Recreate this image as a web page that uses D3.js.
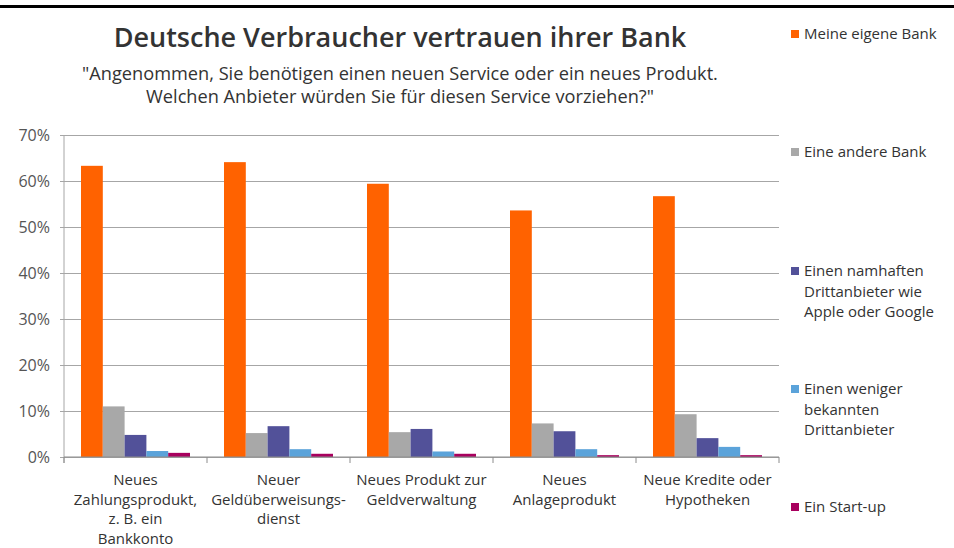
<!DOCTYPE html>
<html>
<head>
<meta charset="utf-8">
<script src="https://cdn.jsdelivr.net/npm/d3@7/dist/d3.min.js"></script>
<style>
  body { margin: 0; background: #ffffff; }
  svg { display: block; font-family: "Open Sans", sans-serif; }
</style>
</head>
<body>
<div id="chart"></div>
<script>
// categories (multi-line labels) and series
const categories = [
  ["Neues", "Zahlungsprodukt,", "z. B. ein", "Bankkonto"],
  ["Neuer", "Geldüberweisungs-", "dienst"],
  ["Neues Produkt zur", "Geldverwaltung"],
  ["Neues", "Anlageprodukt"],
  ["Neue Kredite oder", "Hypotheken"]
];
const seriesNames = [
  ["Meine eigene Bank"],
  ["Eine andere Bank"],
  ["Einen namhaften", "Drittanbieter wie", "Apple oder Google"],
  ["Einen weniger", "bekannten", "Drittanbieter"],
  ["Ein Start-up"]
];
// values in %, one array per series, ordered as categories
const eigeneBank   = [63.3, 64.1, 59.4, 53.6, 56.7];
const andereBank   = [11.0, 5.2, 5.4, 7.3, 9.3];
const namhafte     = [4.8, 6.7, 6.1, 5.6, 4.1];
const wenigerBek   = [1.3, 1.7, 1.2, 1.7, 2.2];
const startUp      = [0.9, 0.7, 0.7, 0.4, 0.4];
const yTicks = [0, 10, 20, 30, 40, 50, 60, 70];

const colours = ["#ff6200", "#a8a8a8", "#525199", "#5ba3da", "#a8005e"];
const allSeries = [eigeneBank, andereBank, namhafte, wenigerBek, startUp];

const W = 954, H = 548;
const margin = {top: 135, left: 64, right: 175, bottom: 91};

const svg = d3.select("#chart").append("svg")
  .attr("width", W).attr("height", H);

// top rule
svg.append("rect").attr("x", 0).attr("y", 5).attr("width", W).attr("height", 3).attr("fill", "#000");

// titles
svg.append("text")
  .attr("x", 400).attr("y", 47)
  .attr("text-anchor", "middle")
  .attr("font-size", "27px").attr("font-weight", 600)
  .attr("fill", "#333333")
  .text("Deutsche Verbraucher vertrauen ihrer Bank");

const sub = ['"Angenommen, Sie benötigen einen neuen Service oder ein neues Produkt.',
             'Welchen Anbieter würden Sie für diesen Service vorziehen?"'];
svg.append("g").selectAll("text").data(sub).join("text")
  .attr("x", 400).attr("y", (d, i) => 80 + i * 23)
  .attr("text-anchor", "middle")
  .attr("font-size", "18.2px")
  .attr("fill", "#333333")
  .text(d => d);

const x0 = d3.scaleBand()
  .domain(d3.range(categories.length))
  .range([margin.left, W - margin.right]);

const x1 = d3.scaleBand()
  .domain(d3.range(allSeries.length))
  .range([0, x0.bandwidth()])
  .paddingInner(0)
  .paddingOuter(0.78);

const y = d3.scaleLinear().domain([0, 70]).range([H - margin.bottom, margin.top]);

// gridlines + y axis
const yAxis = d3.axisLeft(y).tickValues(yTicks)
  .tickFormat(d => d + "%")
  .tickSize(-(W - margin.right - margin.left + 4)).tickPadding(10);

const gy = svg.append("g")
  .attr("transform", "translate(" + (margin.left - 4) + ",0)")
  .call(yAxis);
gy.select(".domain").remove();
gy.selectAll(".tick line").attr("stroke", "#a6a6a6").attr("stroke-width", 1);
gy.selectAll(".tick text")
  .attr("font-size", "16px").attr("fill", "#555555")
  .attr("font-family", "'Open Sans', sans-serif");

// vertical axis line
svg.append("line")
  .attr("x1", margin.left).attr("x2", margin.left)
  .attr("y1", y(70)).attr("y2", y(0) + 6)
  .attr("stroke", "#a6a6a6");

// bars
const groups = svg.append("g").selectAll("g")
  .data(categories.map((c, i) => i))
  .join("g")
  .attr("transform", i => "translate(" + x0(i) + ",0)");

groups.selectAll("rect")
  .data(i => allSeries.map((s, k) => ({k: k, v: s[i]})))
  .join("rect")
  .attr("x", d => x1(d.k))
  .attr("width", x1.bandwidth())
  .attr("y", d => y(d.v))
  .attr("height", d => y(0) - y(d.v))
  .attr("fill", d => colours[d.k]);

// x axis baseline with category boundary ticks
svg.append("line")
  .attr("x1", margin.left).attr("x2", W - margin.right)
  .attr("y1", y(0)).attr("y2", y(0))
  .attr("stroke", "#8c8c8c");

const boundaries = d3.range(categories.length + 1).map(i => i < categories.length ? x0(i) : x0(i - 1) + x0.bandwidth());
svg.append("g").selectAll("line").data(boundaries).join("line")
  .attr("x1", d => d).attr("x2", d => d)
  .attr("y1", y(0)).attr("y2", y(0) + 6)
  .attr("stroke", "#8c8c8c");

// category labels
const catLabels = svg.append("g").selectAll("text")
  .data(categories.map((c, i) => ({lines: c, i: i})))
  .join("text")
  .attr("text-anchor", "middle")
  .attr("font-size", "15px")
  .attr("fill", "#333333");
catLabels.selectAll("tspan")
  .data(d => d.lines.map(l => ({l: l, i: d.i})))
  .join("tspan")
  .attr("x", d => x0(d.i) + x0.bandwidth() / 2)
  .attr("y", (d, j) => 485 + j * 19.5)
  .text(d => d.l);

// legend
const legendY = [34, 152, 271, 389, 507];
const leg = svg.append("g").selectAll("g")
  .data(seriesNames.map((n, k) => ({lines: n, k: k})))
  .join("g")
  .attr("transform", d => "translate(791," + legendY[d.k] + ")");

leg.append("rect")
  .attr("x", 0).attr("y", -4).attr("width", 8).attr("height", 8)
  .attr("fill", d => colours[d.k]);

leg.append("text")
  .attr("font-size", "15px").attr("fill", "#333333")
  .selectAll("tspan")
  .data(d => d.lines)
  .join("tspan")
  .attr("x", 13)
  .attr("y", (d, j) => 5 + j * 20.5)
  .text(d => d);
</script>
</body>
</html>
